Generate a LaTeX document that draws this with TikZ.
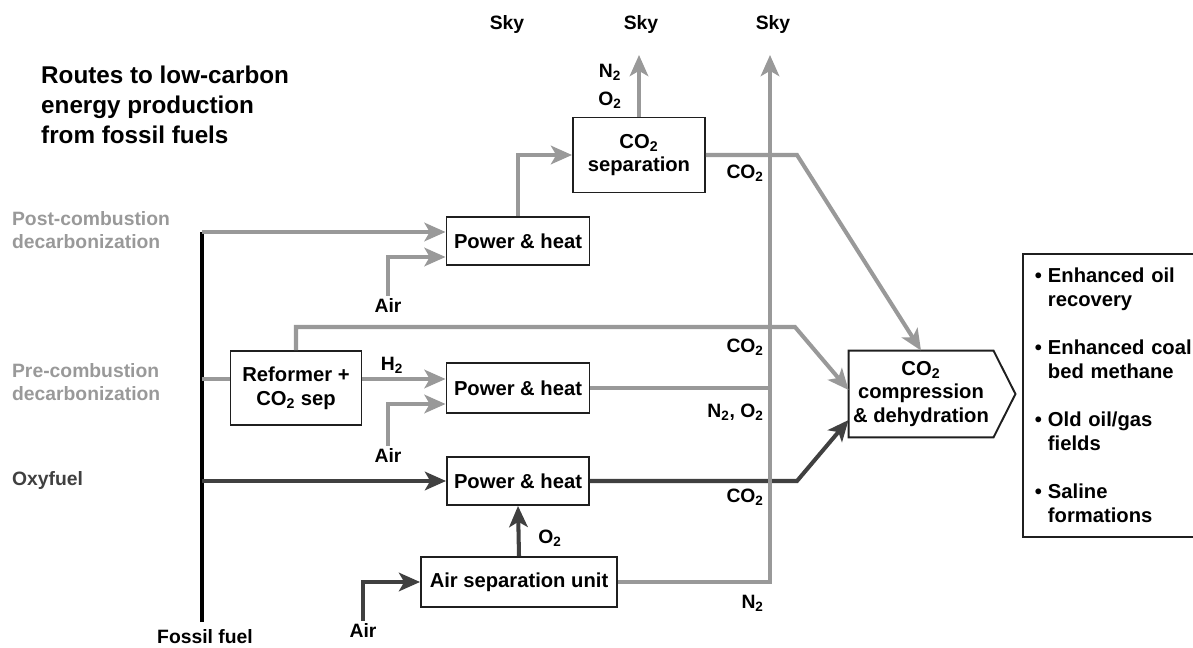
\documentclass[tikz,border=0pt]{standalone}
\usepackage{fontspec}
\setmainfont{Liberation Sans}
\usetikzlibrary{arrows.meta,calc}

\definecolor{flowgray}{gray}{0.6}
\definecolor{flowdark}{gray}{0.25}
\definecolor{boxedge}{gray}{0.12}

\tikzset{
  box/.style={draw=boxedge, line width=1.1pt, fill=white, align=center,
    font=\fontsize{11.5}{13.5}\selectfont\bfseries, inner sep=2pt},
  lbl/.style={font=\fontsize{11}{13}\selectfont\bfseries, inner sep=1pt},
  grayline/.style={draw=flowgray, line width=2.3pt},
  grayarrow/.style={grayline, ->},
  darkarrow/.style={draw=flowdark, line width=2.3pt, ->},
}

\begin{document}
\begin{tikzpicture}[x=0.02cm, y=-0.02cm, >={Stealth[length=12pt,width=10.5pt,inset=3pt]}]
    \useasboundingbox (0,0) rectangle (1193,648);
    % Заголовок
    \node[anchor=west, align=left, font=\fontsize{13.8}{17}\selectfont\bfseries] (title) at (35,105) {Routes to low-carbon\\energy production\\from fossil fuels};
    \node[lbl] (sky1) at (507,25) {Sky};
    \node[lbl] (sky2) at (641,25) {Sky};
    \node[lbl] (sky3) at (773,25) {Sky};
    % Подписи маршрутов
    \node[lbl, anchor=west, align=left, text=flowgray] (post) at (10,230) {Post-combustion\\decarbonization};
    \node[lbl, anchor=west, align=left, text=flowgray] (pre) at (10,382) {Pre-combustion\\decarbonization};
    \node[lbl, anchor=west, text=flowdark] (oxy) at (10,481) {Oxyfuel};
    \node[lbl] (fuel) at (205,637) {Fossil fuel};
    % Блоки
    \node[box, minimum width=2.86cm, minimum height=0.96cm] (ph1) at (518,241) {Power \& heat};
    \node[box, minimum width=2.64cm, minimum height=1.5cm] (sep) at (639,155) {CO\textsubscript{2}\\separation};
    \node[box, minimum width=2.62cm, minimum height=1.48cm] (ref) at (296,388) {Reformer +\\CO\textsubscript{2} sep};
    \node[box, minimum width=2.86cm, minimum height=1.0cm] (ph2) at (518,388) {Power \& heat};
    \node[box, minimum width=2.84cm, minimum height=0.96cm] (ph3) at (518,481) {Power \& heat};
    \node[box, minimum width=3.92cm, minimum height=1.0cm] (asu) at (519,582) {Air separation unit};
    \node[box, draw=none, fill=none, minimum width=2.86cm, minimum height=1.7cm] (comp) at (921,394) {CO\textsubscript{2}\\compression\\\& dehydration};
    \draw[draw=boxedge, line width=1.1pt] (comp.north west) -- (comp.north east) -- ($(comp.east)+(22,0)$) -- (comp.south east) -- (comp.south west) -- cycle;
    \node[box, anchor=north west, align=left, minimum height=5.66cm, text width=3.5cm, inner xsep=0.24cm] (uses) at (1022,253)
      {\makebox[0.26cm][l]{•}Enhanced oil\\\hspace*{0.26cm}recovery\\[14pt]
       \makebox[0.26cm][l]{•}Enhanced coal\\\hspace*{0.26cm}bed methane\\[14pt]
       \makebox[0.26cm][l]{•}Old oil/gas\\\hspace*{0.26cm}fields\\[14pt]
       \makebox[0.26cm][l]{•}Saline\\\hspace*{0.26cm}formations};
    % Точки
    \coordinate (ftop) at (202,232);
    \coordinate (fbot) at (202,622);
    \coordinate (skytip2) at (639,55);
    \coordinate (skytip3) at (770,55);
    \coordinate (bend1) at (797,155);
    \coordinate (bend2) at (795,327);
    \coordinate (bend3) at (797,481);
    \coordinate (ph2in) at ([yshift=0.18cm]ph2.west);
    % Ископаемое топливо
    \draw[line width=2.3pt] (fbot) -- (ftop);
    % После сжигания
    \node[lbl] (air1) at (388,305) {Air};
    \draw[grayarrow] (ftop) -- (ftop -| ph1.west);
    \draw[grayarrow] (air1.north) |- ([yshift=-0.32cm]ph1.west);
    \draw[grayarrow] (ph1.north) |- (sep.west);
    \draw[grayarrow] (sep.north) -- (skytip2);
    \node[lbl] (n2top) at (610,72) {N\textsubscript{2}};
    \node[lbl] (o2top) at (610,100) {O\textsubscript{2}};
    \draw[grayarrow] (sep.east) -- (bend1) -- (comp.north);
    \node[lbl, anchor=east] (co2a) at (766,173) {CO\textsubscript{2}};
    % До сжигания
    \node[lbl] (air2) at (388,455) {Air};
    \node[lbl] (h2) at (392,365) {H\textsubscript{2}};
    \draw[grayline] (ph2in -| ftop) -- (ph2in -| ref.west);
    \draw[grayarrow] (ph2in -| ref.east) -- (ph2in);
    \draw[grayarrow] (air2.north) |- ([yshift=-0.32cm]ph2.west);
    \draw[grayarrow] (ref.north) |- (bend2) -- ([yshift=0.08cm]comp.west);
    \node[lbl, anchor=east] (co2b) at (766,347) {CO\textsubscript{2}};
    \draw[grayline] (ph2.east) -- (ph2.east -| skytip3);
    \node[lbl, anchor=east] (n2o2) at (766,412) {N\textsubscript{2}, O\textsubscript{2}};
    % Кислородное сжигание
    \node[lbl] (air3) at (363,630) {Air};
    \draw[darkarrow] (ftop |- ph3.west) -- (ph3.west);
    \draw[darkarrow] (ph3.east) -- (bend3) -- ([yshift=-0.52cm]comp.west);
    \node[lbl, anchor=east] (co2c) at (766,497) {CO\textsubscript{2}};
    \draw[darkarrow] (asu.north) -- (ph3.south);
    \node[lbl] (o2) at (550,538) {O\textsubscript{2}};
    \draw[darkarrow] (air3.north) |- (asu.west);
    \draw[grayarrow] (asu.east) -| (skytip3);
    \node[lbl, anchor=east] (n2) at (766,603) {N\textsubscript{2}};
\end{tikzpicture}
\end{document}
